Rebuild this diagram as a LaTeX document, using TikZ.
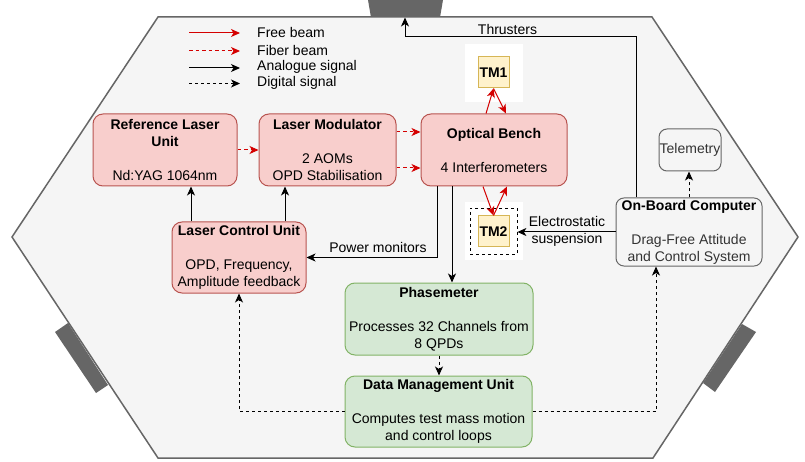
\documentclass[tikz,border=0pt]{standalone}
\usepackage{fontspec}
\setmainfont{Liberation Sans}
\usetikzlibrary{arrows.meta,calc}
\definecolor{hexfill}{HTML}{F5F5F5}
\definecolor{hexline}{HTML}{666666}
\definecolor{redfill}{HTML}{F8CECC}
\definecolor{redline}{HTML}{B85450}
\definecolor{greenfill}{HTML}{D5E8D4}
\definecolor{greenline}{HTML}{82B366}
\definecolor{yelfill}{HTML}{FFF2CC}
\definecolor{yelline}{HTML}{D6B656}
\definecolor{beamred}{HTML}{D40000}
\definecolor{greytext}{HTML}{333333}
\begin{document}
\begin{tikzpicture}[x=1pt,y=-1pt,
  font=\fontsize{14}{17}\selectfont,
  tip/.style={-{Stealth[length=9pt,width=8pt,inset=2.5pt]}},
  beam/.style={tip,draw=beamred,line width=1pt},
  fiber/.style={beam,dash pattern=on 3.5pt off 3pt},
  sig/.style={tip,draw=black,line width=1pt},
  dsig/.style={sig,dash pattern=on 3pt off 3pt},
  unit/.style={draw,rounded corners=10pt,line width=1pt,align=center,inner sep=2pt},
  redunit/.style={unit,fill=redfill,draw=redline},
  greenunit/.style={unit,fill=greenfill,draw=greenline},
  greyunit/.style={unit,fill=hexfill,draw=hexline,rounded corners=8pt},
  mass/.style={draw=yelline,fill=yelfill,line width=1pt,minimum width=31pt,minimum height=31pt,inner sep=0pt,font=\fontsize{14}{17}\selectfont\bfseries},
  thruster/.style={fill=hexline,draw=none},
  lbl/.style={align=center,inner sep=1pt}
]
\useasboundingbox (0,0) rectangle (805,462);

% spacecraft outline
\fill[thruster] (368,0) -- (443,0) -- (440,17.5) -- (371,17.5) -- cycle;
\draw[hexline,fill=hexfill,line width=1.5pt,line join=miter]
  (158,17) -- (652,17) -- (798,237) -- (653,458) -- (158,458) -- (12,237) -- cycle;
\fill[thruster] (55,332) -- (68,323) -- (108,385) -- (96,393) -- cycle;
\fill[thruster] (742,324) -- (756,332) -- (715,392) -- (703,383) -- cycle;

% legend
\foreach \yy/\st/\txt [count=\i] in {33/beam/Free beam,51/fiber/Fiber beam,68/sig/Analogue signal,83.5/dsig/Digital signal}{
  \coordinate (lg\i a) at (189,\yy);
  \coordinate (lg\i b) at (240,\yy);
  \draw[\st] (lg\i a) -- (lg\i b);
  \node[anchor=west,inner sep=0pt] (lgt\i) at (257,\yy-1) {\txt};
}

% test mass housings
\fill[white] (465,44) rectangle (523,102);
\fill[white] (465,202) rectangle (523,260);
\node[draw=black,dash pattern=on 3pt off 3pt,line width=0.8pt,minimum width=47pt,minimum height=46pt,inner sep=0pt] (tm2cage) at (493.5,231) {};
\node[mass] (tm1) at (493.5,72.5) {TM1};
\node[mass] (tm2) at (493.5,231.5) {TM2};

% units
\node[redunit,minimum width=144pt,minimum height=72pt] (rlu) at (165,150)
  {\textbf{Reference Laser}\\\textbf{Unit}\\[17pt]Nd:YAG 1064nm};
\node[redunit,minimum width=137pt,minimum height=72pt] (lm) at (327.5,150)
  {\textbf{Laser Modulator}\\[17pt]2 AOMs\\OPD Stabilisation};
\node[redunit,minimum width=146pt,minimum height=72pt] (ob) at (494,150)
  {\textbf{Optical Bench}\\[17pt]4 Interferometers};
\node[redunit,minimum width=134pt,minimum height=71pt] (lcu) at (239,257.5)
  {\textbf{Laser Control Unit}\\[17pt]OPD, Frequency,\\Amplitude feedback};
\node[greenunit,minimum width=188pt,minimum height=72pt] (pm) at (439,319)
  {\textbf{Phasemeter}\\[17pt]Processes 32 Channels from\\8 QPDs};
\node[greenunit,minimum width=187pt,minimum height=71pt] (dmu) at (438.5,411.5)
  {\textbf{Data Management Unit}\\[17pt]Computes test mass motion\\and control loops};
\node[greyunit,minimum width=146pt,minimum height=64pt] (obc) at (689,232)
  {\textbf{On-Board Computer}\\[17pt]\textcolor{greytext}{Drag-Free Attitude}\\\textcolor{greytext}{and Control System}};
\node[greyunit,minimum width=62pt,minimum height=42pt,text=greytext,inner sep=0pt] (tel) at (690,150) {Telemetry};

% optical paths
\draw[fiber] (rlu) -- (lm);
\draw[fiber] ([yshift=18pt]lm.east) -- ([yshift=18pt]ob.west);
\draw[fiber] ([yshift=-18pt]lm.east) -- ([yshift=-18pt]ob.west);
\draw[beam] ([xshift=-8pt]ob.north) -- (tm1.south);
\draw[beam] (tm1.south) -- ([xshift=12pt]ob.north);
\draw[beam] ([xshift=-11pt]ob.south) -- (tm2.north);
\draw[beam] (tm2.north) -- ([xshift=13pt]ob.south);

% signals
\draw[sig] (lcu.north -| 191,0) -- (rlu.south -| 191,0);
\draw[sig] (lcu.north -| 285,0) -- (lm.south -| 285,0);
\draw[sig] (ob.south -| 437,0) |- (lcu.east);
\node[lbl] (pmon) at (378,247) {Power monitors};
\draw[sig] (ob.south -| 452,0) -- (pm.north -| 452,0);
\draw[dsig] (pm.south -| 439,0) -- (dmu.north -| 439,0);
\draw[dsig] (dmu.west) -| (lcu.south);
\draw[dsig] (dmu.east) -| (obc.south -| 656,0);
\draw[dsig] (obc.north) -- (tel.south -| obc.north);
\coordinate (thr) at (405,17.5);
\draw[sig] (obc.north -| 636,0) |- (405,37) -- (thr);
\node[lbl] (thrlbl) at (507.5,29) {Thrusters};
\draw[sig] (obc.west) -- (obc.west -| tm2cage.east);
\node[lbl] (esus) at (567,231) {Electrostatic\\suspension};
\end{tikzpicture}
\end{document}
